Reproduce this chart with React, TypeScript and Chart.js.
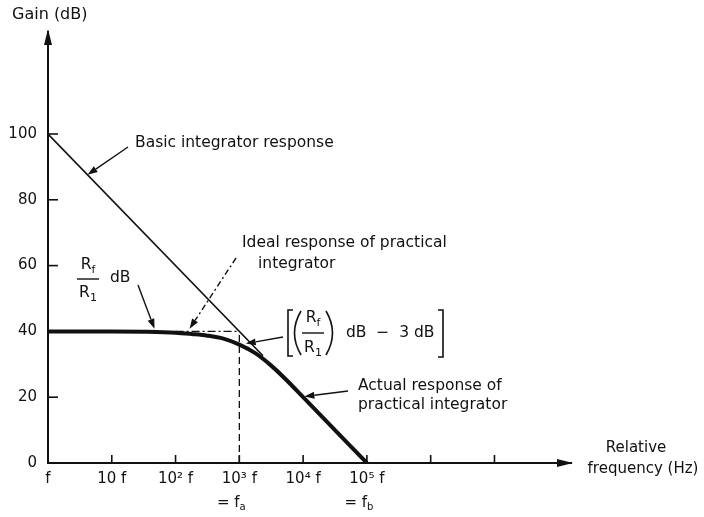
import React, { useEffect, useRef } from "react";
import { Chart, registerables } from "chart.js";

Chart.register(...registerables);

// ---------- data (x in decades: log10 of relative frequency) ----------
const xTickValues = [0, 1, 2, 3, 4, 5, 6, 7];
const xTickLabels = ["f", "10 f", "10² f", "10³ f", "10⁴ f", "10⁵ f", "", ""];
const yTickValues = [0, 20, 40, 60, 80, 100];

const actualLogF = [0, 0.5, 1, 1.5, 2, 2.25, 2.5, 2.75, 3, 3.25, 3.5, 3.75, 4, 4.5, 5];
const actualGain = [40, 40, 40, 39.9, 39.6, 39.2, 38.7, 37.8, 36, 33.4, 29.6, 25, 20, 10, 0];

const basicLogF = [0, 3.37];
const basicGain = [100, 32.6];

const idealLogF = [2, 3];
const idealGain = [40, 40];

const cornerLogF = [3, 3];
const cornerGain = [0, 40];

// ---------- styles ----------
const INK = "#111111";
const FONT = '"DejaVu Sans", "Liberation Sans", sans-serif';

const pts = (xs: number[], ys: number[]) => xs.map((v, i) => ({ x: v, y: ys[i] }));

function arrowLine(ctx: CanvasRenderingContext2D, x1: number, y1: number, x2: number, y2: number, dash: number[] = []) {
  const a = Math.atan2(y2 - y1, x2 - x1);
  const L = 10, W = 3.5;
  ctx.save();
  ctx.lineWidth = 1.4;
  ctx.setLineDash(dash);
  ctx.beginPath();
  ctx.moveTo(x1, y1);
  ctx.lineTo(x2 - L * Math.cos(a), y2 - L * Math.sin(a));
  ctx.stroke();
  ctx.setLineDash([]);
  ctx.beginPath();
  ctx.moveTo(x2, y2);
  ctx.lineTo(x2 - L * Math.cos(a) + W * Math.sin(a), y2 - L * Math.sin(a) - W * Math.cos(a));
  ctx.lineTo(x2 - L * Math.cos(a) - W * Math.sin(a), y2 - L * Math.sin(a) + W * Math.cos(a));
  ctx.closePath();
  ctx.fill();
  ctx.restore();
}

type Part = { t: string; sub?: boolean };
function rich(ctx: CanvasRenderingContext2D, parts: Part[], x: number, y: number, size: number, align: "left" | "center" = "left") {
  const main = `${size}px ${FONT}`;
  const small = `${Math.round(size * 0.68)}px ${FONT}`;
  const widths = parts.map((p) => {
    ctx.font = p.sub ? small : main;
    return ctx.measureText(p.t).width;
  });
  const total = widths.reduce((s, w) => s + w, 0);
  let cx = align === "center" ? x - total / 2 : x;
  ctx.textAlign = "left";
  ctx.textBaseline = "middle";
  parts.forEach((p, i) => {
    ctx.font = p.sub ? small : main;
    ctx.fillText(p.t, cx, p.sub ? y + size * 0.32 : y);
    cx += widths[i];
  });
}

function fraction(ctx: CanvasRenderingContext2D, cx: number, yTop: number, yBar: number, yBot: number, size: number) {
  rich(ctx, [{ t: "R" }, { t: "f", sub: true }], cx, yTop, size, "center");
  ctx.save();
  ctx.lineWidth = 1.4;
  ctx.beginPath();
  ctx.moveTo(cx - 11, yBar);
  ctx.lineTo(cx + 11, yBar);
  ctx.stroke();
  ctx.restore();
  rich(ctx, [{ t: "R" }, { t: "1", sub: true }], cx, yBot, size, "center");
}

const annotationPlugin = {
  id: "integratorAnnotations",
  afterDraw(chart: any) {
    const { ctx, chartArea } = chart;
    const sx = chart.scales.x;
    const sy = chart.scales.y;
    const X = (v: number) => sx.getPixelForValue(v);
    const Y = (v: number) => sy.getPixelForValue(v);
    const x0 = X(0);
    const y0 = Y(0);
    const AF = 15.5;

    ctx.save();
    ctx.strokeStyle = INK;
    ctx.fillStyle = INK;

    // axis arrow heads
    ctx.beginPath();
    ctx.moveTo(x0, chartArea.top - 3);
    ctx.lineTo(x0 - 4, chartArea.top + 13);
    ctx.lineTo(x0 + 4, chartArea.top + 13);
    ctx.closePath();
    ctx.fill();
    const xr = chartArea.right;
    ctx.beginPath();
    ctx.moveTo(xr + 2, y0);
    ctx.lineTo(xr - 14, y0 - 4);
    ctx.lineTo(xr - 14, y0 + 4);
    ctx.closePath();
    ctx.fill();

    // inward tick marks
    ctx.lineWidth = 1.6;
    xTickValues.forEach((v) => {
      if (v === 0) return;
      ctx.beginPath();
      ctx.moveTo(X(v), y0);
      ctx.lineTo(X(v), y0 - 8);
      ctx.stroke();
    });
    yTickValues.forEach((v) => {
      if (v === 0) return;
      ctx.beginPath();
      ctx.moveTo(x0, Y(v));
      ctx.lineTo(x0 + 10, Y(v));
      ctx.stroke();
    });

    // axis titles
    rich(ctx, [{ t: "Gain (dB)" }], 12, 15, 16);
    rich(ctx, [{ t: "Relative" }], 636, 448, 15, "center");
    rich(ctx, [{ t: "frequency (Hz)" }], 643, 469, 15, "center");

    // = fa, = fb under ticks
    rich(ctx, [{ t: "= f" }, { t: "a", sub: true }], X(3) - 8, 503, 15, "center");
    rich(ctx, [{ t: "= f" }, { t: "b", sub: true }], X(5) - 8, 503, 15, "center");

    // Basic integrator response
    rich(ctx, [{ t: "Basic integrator response" }], 135, 143, AF);
    arrowLine(ctx, 128, 147, X(0.62), Y(87.6));

    // Ideal response of practical integrator
    rich(ctx, [{ t: "Ideal response of practical" }], 242, 243, AF);
    rich(ctx, [{ t: "integrator" }], 258, 264, AF);
    arrowLine(ctx, 236, 258, X(2.22), Y(40.8), [6, 3, 2, 3]);

    // Rf/R1 dB
    fraction(ctx, 88, 265, 279, 293, AF);
    rich(ctx, [{ t: "dB" }], 110, 278, AF);
    arrowLine(ctx, 138, 285, X(1.67), Y(40.8));

    // [(Rf/R1) dB - 3 dB]
    ctx.lineWidth = 1.6;
    ctx.beginPath();
    ctx.moveTo(293, 310); ctx.lineTo(288, 310); ctx.lineTo(288, 356); ctx.lineTo(293, 356);
    ctx.stroke();
    ctx.beginPath();
    ctx.moveTo(301, 311); ctx.quadraticCurveTo(288, 333, 301, 355);
    ctx.stroke();
    fraction(ctx, 313, 318, 333, 348, AF);
    ctx.beginPath();
    ctx.moveTo(326, 311); ctx.quadraticCurveTo(339, 333, 326, 355);
    ctx.stroke();
    rich(ctx, [{ t: "dB  −  3 dB" }], 346, 333, AF);
    ctx.beginPath();
    ctx.moveTo(438, 310); ctx.lineTo(443, 310); ctx.lineTo(443, 357); ctx.lineTo(438, 357);
    ctx.stroke();
    arrowLine(ctx, 283, 337, X(3.1), Y(36.3));

    // Actual response of practical integrator
    rich(ctx, [{ t: "Actual response of" }], 358, 386, AF);
    rich(ctx, [{ t: "practical integrator" }], 358, 405, AF);
    arrowLine(ctx, 348, 391, X(4.02), Y(20.2));

    ctx.restore();
  },
};

export default function App() {
  const ref = useRef<HTMLCanvasElement>(null);

  useEffect(() => {
    const canvas = ref.current;
    if (!canvas) return;
    const chart = new Chart(canvas, {
      type: "scatter",
      data: {
        datasets: [
          {
            label: "Actual response",
            data: pts(actualLogF, actualGain),
            showLine: true,
            borderColor: INK,
            borderWidth: 4,
            pointRadius: 0,
            cubicInterpolationMode: "monotone",
          },
          {
            label: "Basic integrator response",
            data: pts(basicLogF, basicGain),
            showLine: true,
            borderColor: INK,
            borderWidth: 1.7,
            pointRadius: 0,
          },
          {
            label: "Ideal response",
            data: pts(idealLogF, idealGain),
            showLine: true,
            borderColor: INK,
            borderWidth: 1.3,
            borderDash: [8, 3, 2, 3],
            pointRadius: 0,
          },
          {
            label: "Corner",
            data: pts(cornerLogF, cornerGain),
            showLine: true,
            borderColor: INK,
            borderWidth: 1.3,
            borderDash: [7, 4],
            pointRadius: 0,
          },
        ],
      },
      options: {
        responsive: false,
        animation: false,
        devicePixelRatio: 1,
        events: [],
        layout: { padding: { left: 0, right: 133, top: 32, bottom: 0 } },
        plugins: {
          legend: { display: false },
          tooltip: { enabled: false },
        },
        scales: {
          x: {
            type: "linear",
            min: 0,
            max: 8.2,
            afterBuildTicks: (s: any) => {
              s.ticks = xTickValues.map((v) => ({ value: v }));
            },
            afterFit: (s: any) => {
              s.height = 54;
            },
            grid: { display: false, drawTicks: false },
            border: { display: true, color: INK, width: 2 },
            ticks: {
              autoSkip: false,
              maxRotation: 0,
              padding: 7,
              color: INK,
              font: { family: FONT, size: 15 },
              callback: (v: any) => {
                const i = xTickValues.indexOf(Number(v));
                return i >= 0 ? xTickLabels[i] : "";
              },
            },
          },
          y: {
            type: "linear",
            min: 0,
            max: 131,
            afterBuildTicks: (s: any) => {
              s.ticks = yTickValues.map((v) => ({ value: v }));
            },
            afterFit: (s: any) => {
              s.width = 48;
            },
            grid: { display: false, drawTicks: false },
            border: { display: true, color: INK, width: 2 },
            ticks: {
              padding: 11,
              color: INK,
              font: { family: FONT, size: 15 },
              callback: (v: any) => String(v),
            },
          },
        },
      },
      plugins: [annotationPlugin],
    } as any);
    return () => chart.destroy();
  }, []);

  return (
    <div style={{ position: "absolute", left: 0, top: 0, width: 704, height: 517, background: "#ffffff" }}>
      <canvas ref={ref} width={704} height={517} style={{ display: "block" }} />
    </div>
  );
}
